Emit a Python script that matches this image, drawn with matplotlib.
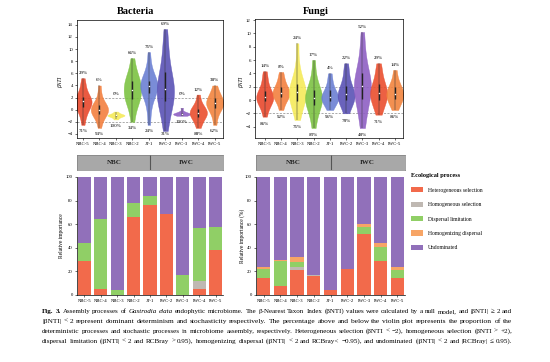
import numpy as np
import matplotlib
matplotlib.use("Agg")
import matplotlib.pyplot as plt
from matplotlib.patches import Patch

plt.rcParams['font.family'] = ['Liberation Serif', 'DejaVu Serif']

# Groups and colours
groups = ["NBC-5", "NBC-4", "NBC-3", "NBC-2", "JT-1", "IWC-2", "IWC-3", "IWC-4", "IWC-5"]
violin_colors = ["#E8482C", "#F3803F", "#F5EA5A", "#7CC242", "#6C80D3",
                 "#5A52B5", "#8E5FC3", "#EA4F2E", "#F2843E"]

# betaNTI values (estimated from the violins)
bac_bnti = [
    [-2.5, -1.2, -0.5, 0.0, 0.4, 0.8, 1.0, 1.2, 1.4, 1.5, 1.6, 1.8, 2.1, 2.6, 3.4, 4.2, 5.2],
    [-3.0, -1.8, -1.2, -0.8, -0.5, -0.3, -0.1, 0.0, 0.2, 0.4, 0.7, 1.0, 1.4, 2.5, 4.0],
    [-1.6, -1.3, -1.1, -1.0, -0.95, -0.9, -0.85, -0.8, -0.6, -0.3],
    [-2.0, -0.5, 0.8, 1.5, 1.8, 2.0, 2.3, 2.8, 3.3, 3.8, 4.2, 4.5, 4.8, 5.2, 5.8, 7.0, 8.5],
    [-2.5, 0.0, 1.5, 2.5, 3.0, 3.4, 3.7, 3.9, 4.1, 4.3, 4.6, 5.0, 5.8, 7.0, 9.5],
    [-3.5, -1.5, 0.0, 0.8, 1.5, 2.0, 2.5, 3.0, 3.5, 4.0, 4.5, 5.2, 6.2, 7.5, 9.0, 11.0, 13.3],
    [-1.0, -0.9, -0.8, -0.75, -0.7, -0.65, -0.6, -0.5, -0.3, 0.3],
    [-3.0, -2.2, -1.6, -1.2, -0.9, -0.7, -0.5, -0.3, -0.1, 0.2, 0.6, 1.2, 2.5],
    [-2.5, -1.0, -0.2, 0.3, 0.6, 0.9, 1.1, 1.3, 1.6, 2.0, 2.4, 3.0, 4.0],
]
fun_bnti = [
    [-2.5, -1.3, -0.6, -0.2, 0.1, 0.3, 0.5, 0.7, 1.0, 1.4, 2.2, 3.2, 4.3],
    [-1.5, -0.4, 0.2, 0.5, 0.8, 1.0, 1.2, 1.5, 1.9, 2.4, 3.2, 4.2],
    [-3.0, -1.8, -0.8, -0.2, 0.3, 0.7, 1.0, 1.3, 1.6, 2.0, 2.6, 3.5, 5.0, 8.5],
    [-4.2, -2.5, -1.5, -0.8, -0.3, 0.0, 0.3, 0.6, 1.0, 1.5, 2.2, 3.5, 6.0],
    [-1.5, -0.8, -0.3, 0.0, 0.2, 0.4, 0.6, 0.9, 1.3, 1.9, 2.8, 4.0],
    [-2.0, -1.0, -0.4, 0.0, 0.3, 0.6, 0.9, 1.2, 1.6, 2.1, 3.0, 4.2, 5.5],
    [-4.2, -2.5, -1.0, 0.0, 0.8, 1.4, 1.9, 2.3, 2.8, 3.4, 4.2, 5.5, 7.5, 10.2],
    [-2.2, -1.2, -0.5, 0.0, 0.4, 0.8, 1.1, 1.5, 1.9, 2.4, 3.2, 4.3, 5.5],
    [-1.5, -0.7, -0.2, 0.2, 0.5, 0.8, 1.1, 1.4, 1.8, 2.3, 3.0, 4.5],
]
bac_top = ["29%", "6%", "0%", "66%", "76%", "69%", "0%", "12%", "38%"]
bac_bottom = ["71%", "94%", "100%", "34%", "24%", "31%", "100%", "88%", "62%"]
fun_top = ["14%", "8%", "24%", "17%", "4%", "22%", "52%", "29%", "14%"]
fun_bottom = ["86%", "92%", "76%", "83%", "96%", "78%", "48%", "71%", "86%"]

# Relative importance of ecological processes (%)
processes = ["Heterogeneous selection", "Homogeneous selection", "Dispersal limitation",
             "Homogenizing dispersal", "Undominated"]
process_colors = ["#F26A4B", "#BFB8B2", "#90CF66", "#F7A566", "#9170BA"]
bac_het = [29, 5, 0, 66, 76, 69, 0, 5, 38]
bac_hom = [0, 0, 0, 0, 0, 0, 0, 7, 0]
bac_disp = [15, 59, 4, 12, 8, 0, 17, 45, 20]
bac_hd = [0, 0, 0, 0, 0, 0, 0, 0, 0]
bac_und = [56, 36, 96, 22, 16, 31, 83, 43, 42]
fun_het = [14, 8, 21, 16, 4, 22, 52, 29, 14]
fun_hom = [0, 0, 3, 1, 0, 0, 0, 0, 0]
fun_disp = [8, 21, 4, 0, 0, 0, 6, 12, 7]
fun_hd = [2, 1, 4, 0, 0, 0, 2, 3, 3]
fun_und = [76, 70, 68, 83, 96, 78, 40, 56, 76]

W, H = 550, 362
fig = plt.figure(figsize=(5.5, 3.62), dpi=100)


def px_axes(x0, y0, x1, y1):
    return fig.add_axes([x0 / W, 1 - y1 / H, (x1 - x0) / W, (y1 - y0) / H])


def violin_panel(ax, data, top, bottom, ylim, yticks, low_cap, off_bottom):
    pos = np.arange(len(data))
    parts = ax.violinplot(data, positions=pos, widths=1.05, showextrema=False, bw_method=0.55)
    for body, c in zip(parts['bodies'], violin_colors):
        body.set_facecolor(c)
        body.set_edgecolor(c)
        body.set_linewidth(0.3)
        body.set_alpha(0.9)
    for i, d in enumerate(data):
        q1, med, q3 = np.percentile(d, [25, 50, 75])
        ax.vlines(i, min(d), max(d), color="#333333", lw=0.35, zorder=3)
        ax.vlines(i, q1, q3, color="#222222", lw=1.0, zorder=3)
        ax.scatter([i], [med], s=1.2, color="white", zorder=4, lw=0)
        ax.text(i, max(max(d) + 0.5, 2.25), top[i], ha="center", va="bottom", fontsize=3.6)
        ax.text(i, max(min(d) - off_bottom, low_cap), bottom[i], ha="center", va="center", fontsize=3.6)
    ax.axhline(2, color="#888888", lw=0.5, ls=(0, (3, 2)), zorder=0)
    ax.axhline(-2, color="#888888", lw=0.5, ls=(0, (3, 2)), zorder=0)
    ax.set_ylim(*ylim)
    ax.set_yticks(yticks)
    ax.set_xticks(pos)
    ax.set_xticklabels(groups)
    ax.tick_params(labelsize=3.4, length=1.5, width=0.4, pad=1.5)
    for s in ax.spines.values():
        s.set_linewidth(0.5)


def strip_panel(ax):
    ax.axvspan(-0.45, 8.45, color="#A8A8A8")
    ax.axvline(4, color="#555555", lw=0.8)
    ax.text(1.8, 0.5, "NBC", ha="center", va="center", fontsize=5, fontweight="bold", color="#222222")
    ax.text(6.2, 0.5, "IWC", ha="center", va="center", fontsize=5, fontweight="bold", color="#222222")
    ax.set_xlim(-0.45, 8.45)
    ax.set_ylim(0, 1)
    ax.set_xticks([])
    ax.set_yticks([])
    for s in ax.spines.values():
        s.set_color("#808080")
        s.set_linewidth(0.5)


def bar_panel(ax, layers):
    pos = np.arange(len(groups))
    bottom = np.zeros(len(groups))
    for vals, c in zip(layers, process_colors):
        vals = np.array(vals, dtype=float)
        ax.bar(pos, vals, bottom=bottom, width=0.8, color=c, lw=0)
        bottom += vals
    ax.set_xlim(-0.45, 8.45)
    ax.set_ylim(0, 100)
    ax.set_yticks([0, 20, 40, 60, 80, 100])
    ax.set_xticks(pos)
    ax.set_xticklabels(groups)
    ax.tick_params(labelsize=3.4, length=1.5, width=0.4, pad=1.5)
    ax.spines['top'].set_visible(False)
    ax.spines['right'].set_visible(False)
    ax.spines['left'].set_linewidth(0.5)
    ax.spines['bottom'].set_linewidth(0.5)


# Violin plots
ax1 = px_axes(77, 20, 223, 138)
violin_panel(ax1, bac_bnti, bac_top, bac_bottom, (-4.66, 14.8), range(-4, 15, 2), -4.0, 1.0)
ax1.set_xlim(-0.36, 8.5)
ax2 = px_axes(255, 19, 403, 138)
violin_panel(ax2, fun_bnti, fun_top, fun_bottom, (-5.7, 12.15), range(-4, 13, 2), -5.4, 1.1)
ax2.set_xlim(-0.6, 8.5)

fig.text(136 / W, 1 - 12 / H, "Bacteria", ha="center", va="center", fontsize=7.5, fontweight="bold")
fig.text(316 / W, 1 - 12 / H, "Fungi", ha="center", va="center", fontsize=7.5, fontweight="bold")
fig.text(61 / W, 1 - 82 / H, "βNTI", rotation=90, ha="center", va="center", fontsize=4, style="italic")
fig.text(242 / W, 1 - 82 / H, "βNTI", rotation=90, ha="center", va="center", fontsize=4, style="italic")

# Group strips
strip_panel(px_axes(77, 155, 223, 170))
strip_panel(px_axes(256, 155, 405, 170))

# Stacked bars
ax3 = px_axes(77, 177, 223, 295)
bar_panel(ax3, [bac_het, bac_hom, bac_disp, bac_hd, bac_und])
ax4 = px_axes(256, 177, 405, 295)
bar_panel(ax4, [fun_het, fun_hom, fun_disp, fun_hd, fun_und])
fig.text(61 / W, 1 - 236 / H, "Relative importance", rotation=90, ha="center", va="center", fontsize=4)
fig.text(242 / W, 1 - 236 / H, "Relative importance (%)", rotation=90, ha="center", va="center", fontsize=4)

handles = [Patch(facecolor=c, edgecolor="none", label=p) for p, c in zip(processes, process_colors)]
leg = fig.legend(handles=handles, loc="upper left", bbox_to_anchor=(409 / W, 1 - 171 / H),
                 frameon=False, fontsize=4, title="Ecological process",
                 title_fontproperties={"size": 4.5, "weight": "bold"},
                 handlelength=2.2, handleheight=1.1, labelspacing=1.6, handletextpad=0.8,
                 alignment="left", borderaxespad=0)

# Caption: size fitted per line, then words justified across the text width
caption = [
    [("Fig. 3.", "bold"), ("Assembly processes of", "normal"), ("Gastrodia elata", "italic"),
     ("endophytic microbiome. The β-Nearest Taxon Index (βNTI) values were calculated by a null model, and |βNTI| ≥ 2 and", "normal")],
    [("|βNTI| < 2 represent dominant determinism and stochasticity respectively. The percentage above and below the violin plot represents the proportion of the", "normal")],
    [("deterministic processes and stochastic processes in microbiome assembly, respectively. Heterogeneous selection (βNTI < −2), homogeneous selection (βNTI > +2),", "normal")],
    [("dispersal limitation (|βNTI| < 2 and RCBray > 0.95), homogenizing dispersal (|βNTI| < 2 and RCBray< −0.95), and undominated (|βNTI| < 2 and |RCBray| ≤ 0.95).", "normal")],
]
line_y = [313, 323, 333, 343]
x_left, x_right = 42, 512
renderer = fig.canvas.get_renderer()
base = 5.0
for segs, y in zip(caption, line_y):
    words = []
    for txt, sty in segs:
        for w in txt.split(" "):
            words.append((w, sty))
    arts = []
    for w, sty in words:
        kw = {"fontweight": "bold"} if sty == "bold" else ({"style": "italic"} if sty == "italic" else {})
        arts.append(fig.text(0, 1 - y / H, w, fontsize=base, va="baseline", ha="left", **kw))
    word_w = sum(t.get_window_extent(renderer).width for t in arts)
    space = 0.25 * base * 100 / 72
    natural = word_w + space * (len(arts) - 1)
    size = min(base * (x_right - x_left) / natural, 5.4)
    for t in arts:
        t.set_fontsize(size)
    widths = [t.get_window_extent(renderer).width for t in arts]
    gap = (x_right - x_left - sum(widths)) / (len(arts) - 1)
    x = x_left
    for t, wd in zip(arts, widths):
        t.set_x(x / W)
        x += wd + gap

fig.savefig("out.png", dpi=100)
